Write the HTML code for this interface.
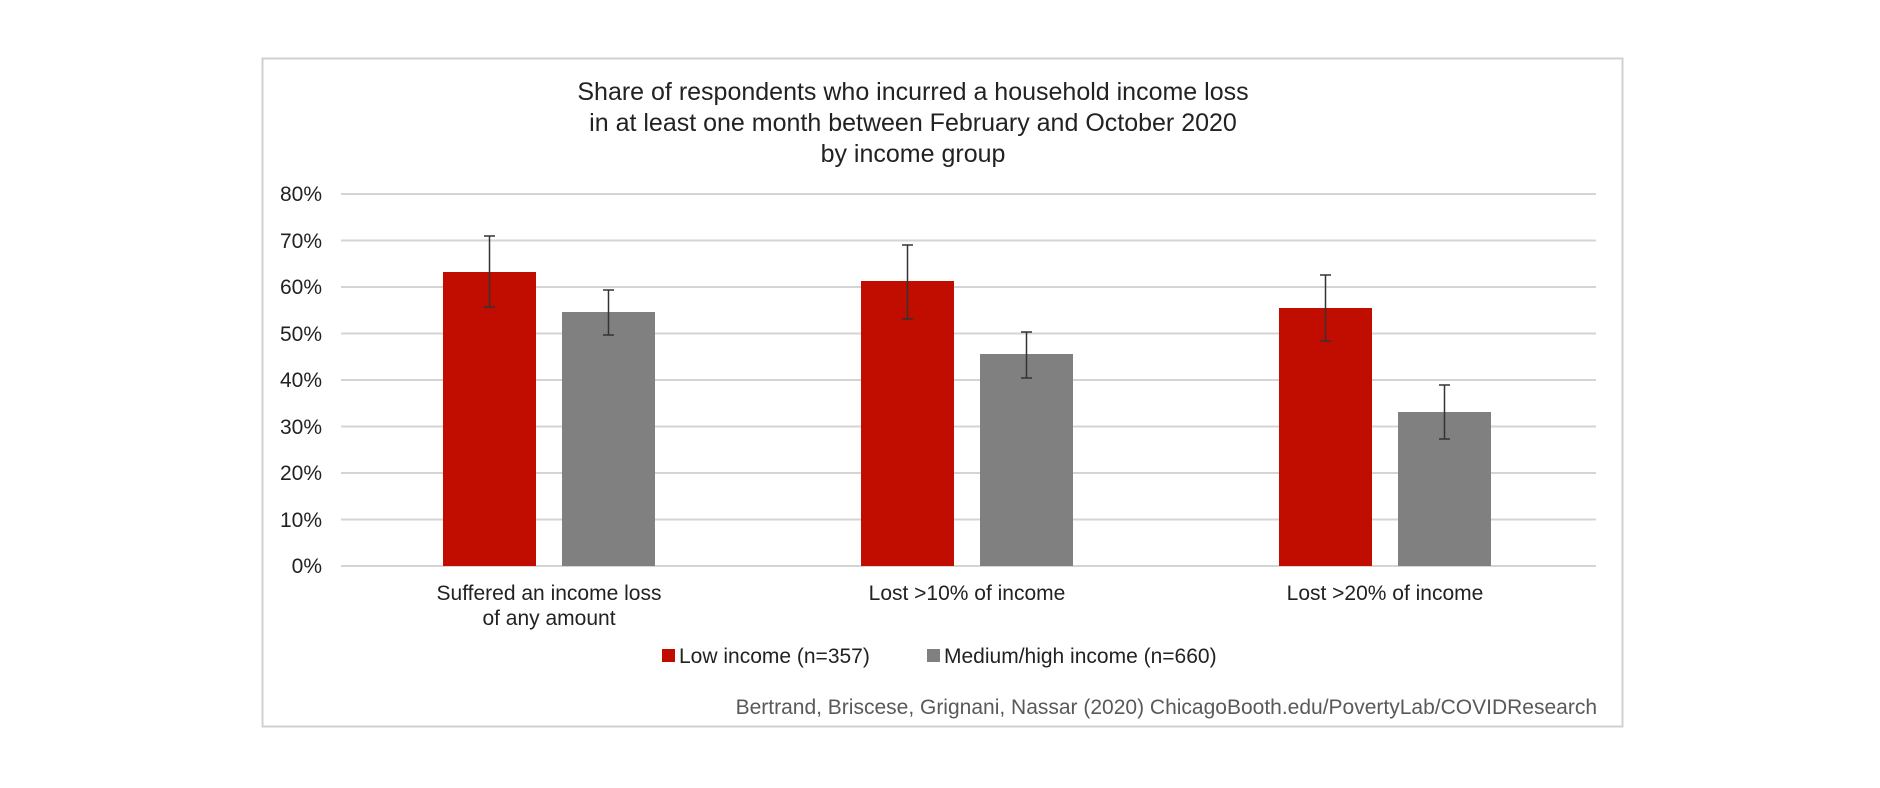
<!DOCTYPE html>
<html><head><meta charset="utf-8"><style>
body{margin:0;background:#fff;}
svg text{font-family:"Liberation Sans",Arial,sans-serif;}
</style></head><body>
<svg width="1880" height="783" viewBox="0 0 1880 783" xmlns="http://www.w3.org/2000/svg">
<rect x="262.5" y="58.5" width="1360" height="668" fill="#fff" stroke="#d0d0d0" stroke-width="2"/>
<g font-size="25" fill="#222" text-anchor="middle">
<text x="913" y="100">Share of respondents who incurred a household income loss</text>
<text x="913" y="131">in at least one month between February and October 2020</text>
<text x="913" y="162">by income group</text>
</g>
<g stroke="#d4d4d4" stroke-width="2">
<line x1="341" x2="1596" y1="194" y2="194"/><line x1="341" x2="1596" y1="240.5" y2="240.5"/>
<line x1="341" x2="1596" y1="287" y2="287"/><line x1="341" x2="1596" y1="333.5" y2="333.5"/>
<line x1="341" x2="1596" y1="380" y2="380"/><line x1="341" x2="1596" y1="426.5" y2="426.5"/>
<line x1="341" x2="1596" y1="473" y2="473"/><line x1="341" x2="1596" y1="519.5" y2="519.5"/>
<line x1="341" x2="1596" y1="566" y2="566"/>
</g>
<g font-size="21" fill="#222" text-anchor="end">
<text x="322" y="201">80%</text><text x="322" y="248">70%</text><text x="322" y="294">60%</text>
<text x="322" y="341">50%</text><text x="322" y="387">40%</text><text x="322" y="434">30%</text>
<text x="322" y="480">20%</text><text x="322" y="527">10%</text><text x="322" y="573">0%</text>
</g>
<g fill="#c00d00">
<rect x="443" y="272" width="93" height="294"/>
<rect x="861" y="281" width="93" height="285"/>
<rect x="1279" y="308" width="93" height="258"/>
</g>
<g fill="#808080">
<rect x="562" y="312" width="93" height="254"/>
<rect x="980" y="354" width="93" height="212"/>
<rect x="1398" y="412" width="93" height="154"/>
</g>
<g stroke="#333" stroke-width="1.5">
<path d="M489.5 236V307M484 236h11M484 307h11"/>
<path d="M608.5 290V335M603 290h11M603 335h11"/>
<path d="M907.5 245V319M902 245h11M902 319h11"/>
<path d="M1026.5 332V378M1021 332h11M1021 378h11"/>
<path d="M1325.5 275V341M1320 275h11M1320 341h11"/>
<path d="M1444.5 385V439M1439 385h11M1439 439h11"/>
</g>
<g font-size="21" fill="#222" text-anchor="middle">
<text x="549" y="600">Suffered an income loss</text>
<text x="549" y="625">of any amount</text>
<text x="967" y="600">Lost &gt;10% of income</text>
<text x="1385" y="600">Lost &gt;20% of income</text>
</g>
<rect x="662" y="649" width="13" height="13" fill="#c00d00"/>
<text x="679" y="663" font-size="21" fill="#222">Low income (n=357)</text>
<rect x="927" y="649" width="13" height="13" fill="#808080"/>
<text x="944" y="663" font-size="21" fill="#222">Medium/high income (n=660)</text>
<text x="1597" y="714" font-size="21" fill="#595959" text-anchor="end">Bertrand, Briscese, Grignani, Nassar (2020) ChicagoBooth.edu/PovertyLab/COVIDResearch</text>
</svg>
</body></html>
